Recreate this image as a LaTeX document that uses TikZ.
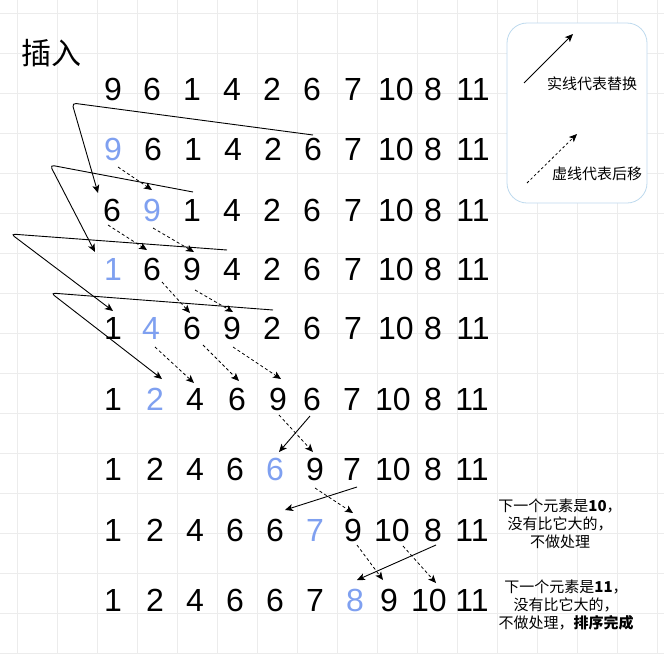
\documentclass[tikz,border=0pt]{standalone}
\usepackage{fontspec}
\setmainfont{Liberation Sans}
\newfontfamily\cjk{Noto Sans CJK SC}
\usetikzlibrary{arrows.meta}
\definecolor{hl}{RGB}{127,160,240}
\definecolor{gridc}{RGB}{236,236,236}
\definecolor{legc}{RGB}{190,218,238}
\begin{document}
\begin{tikzpicture}[x=1pt,y=-1pt,
  digit/.style={inner sep=0pt,font=\fontsize{32}{32}\selectfont,anchor=center},
  gridline/.style={draw=gridc,line width=0.8pt},
  tip/.style={-{Stealth[length=8pt,width=7pt,inset=2pt]}},
  swapline/.style={draw=black,line width=0.9pt,rounded corners=4pt,tip},
  moveline/.style={draw=black,line width=0.8pt,dash pattern=on 3pt off 2.5pt,tip},
  note/.style={font=\cjk\fontsize{15}{18}\selectfont,align=center,inner sep=0pt},
  legendbox/.style={draw=legc,fill=white,rounded corners=20pt,line width=0.8pt,minimum width=140pt,minimum height=180pt,inner sep=0pt}
]
\useasboundingbox (0,0) rectangle (664,654);
\fill[white] (0,0) rectangle (664,654);
% grid
\foreach \gx in {17,57,...,657} \draw[gridline] (\gx,0) -- (\gx,654);
\foreach \gy in {13,53,...,653} \draw[gridline] (0,\gy) -- (664,\gy);

% title
\node[font=\cjk\fontsize{30}{30}\selectfont,inner sep=0pt] (title) at (51,53) {插入};

% legend
\node[legendbox] (legend) at (577,113) {};
\coordinate (la1) at (524,83); \coordinate (la2) at (573,34);
\coordinate (lb1) at (527,183); \coordinate (lb2) at (577,134);
\draw[swapline] (la1) -- (la2);
\draw[moveline,dash pattern=on 2.5pt off 2.5pt] (lb1) -- (lb2);
\node[note] (legA) at (592,84) {实线代表替换};
\node[note] (legB) at (597,174) {虚线代表后移};

% rows
\foreach \x/\v/\c [count=\i] in {113/9/black,152/6/black,192/1/black,232/4/black,272/2/black,312/6/black,353/7/black,396/10/black,433/8/black,473/11/black}
  \node[digit,text=\c] (ra\i) at (\x,89) {\v};
\foreach \x/\v/\c [count=\i] in {113/9/hl,153/6/black,193/1/black,233/4/black,273/2/black,313/6/black,353/7/black,396/10/black,433/8/black,473/11/black}
  \node[digit,text=\c] (rb\i) at (\x,149) {\v};
\foreach \x/\v/\c [count=\i] in {112/6/black,152/9/hl,192/1/black,232/4/black,272/2/black,312/6/black,353/7/black,396/10/black,433/8/black,473/11/black}
  \node[digit,text=\c] (rc\i) at (\x,210) {\v};
\foreach \x/\v/\c [count=\i] in {113/1/hl,152/6/black,192/9/black,232/4/black,272/2/black,312/6/black,353/7/black,396/10/black,433/8/black,473/11/black}
  \node[digit,text=\c] (rd\i) at (\x,269) {\v};
\foreach \x/\v/\c [count=\i] in {113/1/black,151/4/hl,192/6/black,232/9/black,272/2/black,312/6/black,353/7/black,396/10/black,433/8/black,473/11/black}
  \node[digit,text=\c] (re\i) at (\x,328) {\v};
\foreach \x/\v/\c [count=\i] in {113/1/black,155/2/hl,195/4/black,237/6/black,278/9/black,312/6/black,352/7/black,393/10/black,433/8/black,472/11/black}
  \node[digit,text=\c] (rf\i) at (\x,399) {\v};
\foreach \x/\v/\c [count=\i] in {113/1/black,155/2/black,195/4/black,235/6/black,275/6/hl,315/9/black,352/7/black,393/10/black,433/8/black,472/11/black}
  \node[digit,text=\c] (rg\i) at (\x,469) {\v};
\foreach \x/\v/\c [count=\i] in {113/1/black,155/2/black,195/4/black,235/6/black,275/6/black,315/7/hl,353/9/black,392/10/black,433/8/black,472/11/black}
  \node[digit,text=\c] (rh\i) at (\x,530) {\v};
\foreach \x/\v/\c [count=\i] in {113/1/black,155/2/black,195/4/black,235/6/black,275/6/black,315/7/black,355/8/hl,389/9/black,429/10/black,472/11/black}
  \node[digit,text=\c] (ri\i) at (\x,600) {\v};

% notes
\node[note] (noteA) at (560,524) {下一个元素是\textbf{10}，\\没有比它大的，\\不做处理};
\node[note] (noteB) at (566,605) {下一个元素是\textbf{11}，\\没有比它大的，\\不做处理，\textbf{排序完成}};

% swap (solid) connectors
\coordinate (s1a) at (313,135); \coordinate (s1k) at (72,103); \coordinate (s1b) at (98,193);
\coordinate (s2a) at (193,192); \coordinate (s2k) at (50,165); \coordinate (s2b) at (95,252);
\coordinate (s3a) at (227,250); \coordinate (s3k) at (11,234); \coordinate (s3b) at (113,311);
\coordinate (s4a) at (273,310); \coordinate (s4k) at (51,293); \coordinate (s4b) at (162,379);
\coordinate (s5a) at (310,416); \coordinate (s5b) at (279,452);
\coordinate (s6a) at (357,487); \coordinate (s6b) at (285,510);
\coordinate (s7a) at (436,545); \coordinate (s7b) at (357,580);
\draw[swapline] (s1a) -- (s1k) -- (s1b);
\draw[swapline] (s2a) -- (s2k) -- (s2b);
\draw[swapline] (s3a) -- (s3k) -- (s3b);
\draw[swapline] (s4a) -- (s4k) -- (s4b);
\draw[swapline] (s5a) -- (s5b);
\draw[swapline] (s6a) -- (s6b);
\draw[swapline] (s7a) -- (s7b);

% move (dashed) connectors
\coordinate (d1a) at (118,167); \coordinate (d1b) at (152,190);
\coordinate (d2a) at (108,225); \coordinate (d2b) at (147,250);
\coordinate (d3a) at (153,228); \coordinate (d3b) at (194,252);
\coordinate (d4a) at (162,282); \coordinate (d4b) at (190,313);
\coordinate (d5a) at (195,290); \coordinate (d5b) at (233,312);
\coordinate (d6a) at (155,347); \coordinate (d6b) at (194,383);
\coordinate (d7a) at (203,345); \coordinate (d7b) at (239,381);
\coordinate (d8a) at (233,347); \coordinate (d8b) at (281,379);
\coordinate (d9a) at (279,415); \coordinate (d9b) at (313,452);
\coordinate (d10a) at (315,488); \coordinate (d10b) at (353,513);
\coordinate (d11a) at (357,545); \coordinate (d11b) at (383,580);
\coordinate (d12a) at (403,546); \coordinate (d12b) at (436,583);
\foreach \k in {1,...,12} \draw[moveline] (d\k a) -- (d\k b);
\end{tikzpicture}
\end{document}
